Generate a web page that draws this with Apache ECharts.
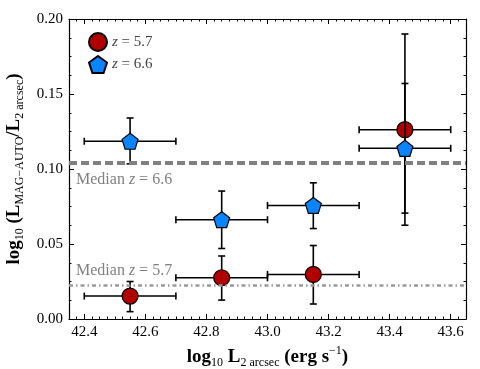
<!DOCTYPE html>
<html><head><meta charset="utf-8">
<script src="https://cdn.jsdelivr.net/npm/echarts@6/dist/echarts.min.js"></script>
<style>html,body{margin:0;padding:0;background:#fff}#c{width:480px;height:369px}</style>
</head><body><div id="c"></div>
<script>
// ---- data ----
const binCenters = [42.55, 42.85, 43.15, 43.45];
const binLow = [42.4, 42.7, 43.0, 43.3];
const binHigh = [42.7, 43.0, 43.3, 43.6];
const z57Value = [0.0153, 0.0275, 0.0297, 0.1262];
const z57Low = [0.0049, 0.0126, 0.0100, 0.0625];
const z57High = [0.0250, 0.0420, 0.0490, 0.1900];
const z66Value = [0.1185, 0.0662, 0.0757, 0.1138];
const z66Low = [0.1034, 0.0470, 0.0603, 0.0706];
const z66High = [0.1340, 0.0853, 0.0908, 0.1570];
const medianZ57 = 0.0226;
const medianZ66 = 0.1041;
const xTicks = [42.4, 42.6, 42.8, 43.0, 43.2, 43.4, 43.6];
const yTicks = [0, 0.05, 0.10, 0.15, 0.20];
const seriesNames = ['z = 5.7', 'z = 6.6'];

const XMIN = 42.35, XMAX = 43.65;
const xMinor = [];
for (let i = 0; i <= 52; i++) xMinor.push(+(XMIN + i * 0.025).toFixed(3));

const FONT = 'Liberation Serif';
const pentagon = 'path://M0,-10 L9.51,-3.09 L5.88,8.09 L-5.88,8.09 L-9.51,-3.09 Z';

function errRows(vals, lo, hi) {
  return binCenters.map((x, i) => [x, vals[i], binLow[i], binHigh[i], lo[i], hi[i]]);
}
function errRender(params, api) {
  const x = api.value(0), y = api.value(1);
  const l = api.coord([api.value(2), y]), r = api.coord([api.value(3), y]);
  const b = api.coord([x, api.value(4)]), t = api.coord([x, api.value(5)]);
  const cap = 3.5;
  const style = { stroke: '#000', lineWidth: 1.6, fill: null };
  const ln = (x1, y1, x2, y2) => ({ type: 'line', shape: { x1, y1, x2, y2 }, style });
  return { type: 'group', children: [
    ln(l[0], l[1], r[0], r[1]),
    ln(l[0], l[1] - cap, l[0], l[1] + cap),
    ln(r[0], r[1] - cap, r[0], r[1] + cap),
    ln(b[0], b[1], t[0], t[1]),
    ln(b[0] - cap, b[1], b[0] + cap, b[1]),
    ln(t[0] - cap, t[1], t[0] + cap, t[1])
  ]};
}

const tickBase = (vals, len, showLine, pos) => ({
  type: 'value', min: XMIN, max: XMAX, position: pos,
  axisLine: { show: showLine, onZero: false, lineStyle: { color: '#000', width: 1.2 } },
  axisTick: { show: true, inside: true, length: len, customValues: vals, lineStyle: { color: '#000', width: 1 } },
  axisLabel: { show: false },
  splitLine: { show: false }
});

const titleRich = {
  b: { fontFamily: FONT, fontSize: 19, fontWeight: 'bold', lineHeight: 24, verticalAlign: 'middle', color: '#000' },
  s: { fontFamily: FONT, fontSize: 12, lineHeight: 12, verticalAlign: 'bottom', color: '#000' },
  p: { fontFamily: FONT, fontSize: 12, lineHeight: 12, verticalAlign: 'top', color: '#000' }
};

const xMain = tickBase(xTicks, 5, true, 'bottom');
xMain.axisLabel = { show: true, customValues: xTicks, formatter: v => v.toFixed(1), color: '#000',
  fontFamily: FONT, fontSize: 15, margin: 6 };
xMain.name = '{b|log}{s|10}{b| L}{s|2 arcsec}{b| (erg s}{p|−1}{b|)}';
xMain.nameLocation = 'middle';
xMain.nameGap = 22;
xMain.nameTextStyle = { rich: titleRich };

const yCommon = (pos, showLabel) => ({
  type: 'value', min: 0, max: 0.2, interval: 0.05, position: pos,
  axisLine: { show: true, onZero: false, lineStyle: { color: '#000', width: 1.2 } },
  axisTick: { show: true, inside: true, length: 5, lineStyle: { color: '#000', width: 1 } },
  minorTick: { show: true, splitNumber: 4, length: 2.5, lineStyle: { color: '#000', width: 1 } },
  axisLabel: { show: showLabel, formatter: v => v.toFixed(2), color: '#000', fontFamily: FONT, fontSize: 15, margin: 6 },
  splitLine: { show: false }, minorSplitLine: { show: false }
});
const yMain = yCommon('left', true);
yMain.name = '{b|log}{s|10}{b| (L}{s|MAG−AUTO}{b|/L}{s|2 arcsec}{b|)}';
yMain.nameLocation = 'middle';
yMain.nameGap = 35;
yMain.nameRotate = 90;
yMain.nameTextStyle = { rich: titleRich };

const medLabelRich = {
  t: { fontFamily: FONT, fontSize: 16, color: '#808080' },
  i: { fontFamily: FONT, fontSize: 16, fontStyle: 'italic', color: '#808080' }
};

const option = {
  animation: false,
  backgroundColor: '#fff',
  grid: { left: 69, right: 14, top: 19, bottom: 50, outerBoundsMode: 'none', containLabel: false },
  xAxis: [xMain, tickBase(xMinor, 2.5, false, 'bottom'), tickBase(xTicks, 5, true, 'top'), tickBase(xMinor, 2.5, false, 'top')],
  yAxis: [yMain, yCommon('right', false)],
  legend: {
    orient: 'vertical', left: 83, top: 27, itemWidth: 18, itemHeight: 18, itemGap: 3,
    data: seriesNames,
    formatter: n => '{i|z}{t| = ' + n.split('= ')[1] + '}',
    textStyle: { rich: {
      t: { fontFamily: FONT, fontSize: 15, color: '#444' },
      i: { fontFamily: FONT, fontSize: 15, fontStyle: 'italic', color: '#444' }
    }}
  },
  series: [
    { type: 'line', data: [], silent: true, z: 1,
      markLine: { silent: true, symbol: 'none', precision: 5,
        data: [{ yAxis: medianZ66, lineStyle: { type: [8, 4], width: 4, color: '#808080' },
                 label: { show: true, position: 'insideStartBottom', distance: [7, 9],
                   formatter: '{t|Median }{i|z}{t| = 6.6}', rich: medLabelRich } },
               { yAxis: medianZ57, lineStyle: { type: [4, 3, 1.5, 3], width: 2.5, color: '#999' },
                 label: { show: true, position: 'insideStartTop', distance: [7, 6],
                   formatter: '{t|Median }{i|z}{t| = 5.7}', rich: medLabelRich } }] } },
    { type: 'custom', name: 'e57', renderItem: errRender, data: errRows(z57Value, z57Low, z57High),
      encode: { x: 0, y: 1 }, z: 2, silent: true },
    { type: 'scatter', name: seriesNames[0], data: binCenters.map((x, i) => [x, z57Value[i]]),
      symbol: 'circle', symbolSize: 16, z: 3,
      itemStyle: { color: '#b00000', borderColor: '#000', borderWidth: 1.2, opacity: 1 } },
    { type: 'custom', name: 'e66', renderItem: errRender, data: errRows(z66Value, z66Low, z66High),
      encode: { x: 0, y: 1 }, z: 4, silent: true },
    { type: 'scatter', name: seriesNames[1], data: binCenters.map((x, i) => [x, z66Value[i]]),
      symbol: pentagon, symbolSize: 16, z: 5,
      itemStyle: { color: '#0a84ff', borderColor: '#000', borderWidth: 1.2, opacity: 1 } }
  ]
};
echarts.init(document.getElementById('c')).setOption(option);
</script></body></html>
